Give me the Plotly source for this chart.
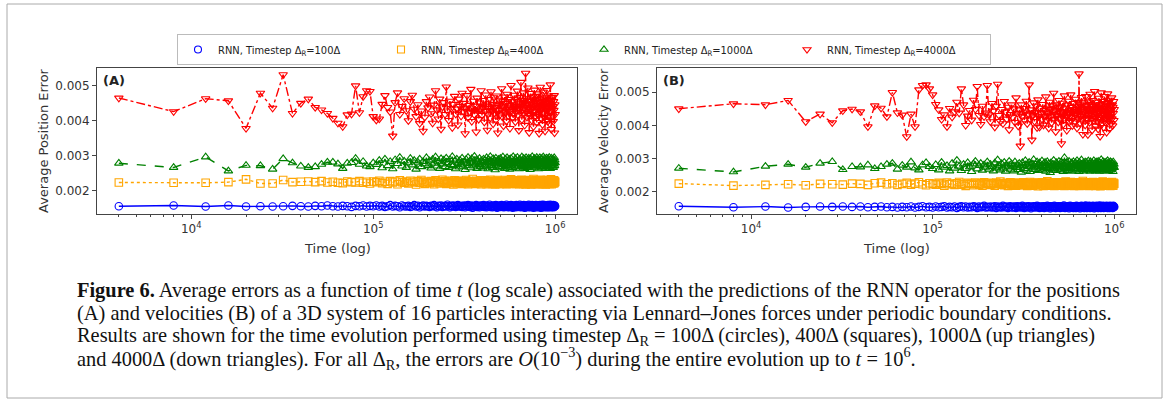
import plotly.graph_objects as go

# ---------------- data ----------------
# time points (t = 4000 * k, k = 1..250)
time_steps = [4000 * k for k in range(1, 251)]

# errors, in units of 1e-5
UNIT = 1e-5

pos_100 = [
    155, 157, 154, 157, 154, 155, 154, 155, 156, 155, 154, 156, 155, 157, 155, 154, 156, 155, 153, 156, 155, 157, 154, 156, 155,
    157, 154, 156, 153, 155, 158, 154, 156, 155, 152, 157, 155, 154, 156, 153, 155, 158, 154, 156, 152, 155, 157, 154, 156, 155,
    153, 156, 155, 158, 154, 152, 156, 155, 157, 153, 155, 156, 154, 159, 155, 152, 156, 154, 157, 155, 153, 156, 158, 154, 155,
    156, 153, 155, 157, 152, 156, 154, 158, 155, 153, 157, 155, 151, 156, 154, 155, 158, 153, 156, 155, 152, 157, 154, 156, 155,
    158, 153, 155, 156, 152, 157, 154, 155, 159, 153, 156, 155, 152, 157, 154, 156, 153, 158, 155, 151, 156, 154, 157, 155, 153,
    156, 158, 154, 155, 152, 157, 155, 153, 156, 159, 154, 155, 152, 157, 156, 153, 155, 158, 154, 156, 151, 155, 157, 153, 156,
    155, 152, 158, 154, 156, 155, 153, 157, 154, 159, 155, 152, 156, 154, 157, 155, 153, 158, 155, 151, 156, 154, 157, 155, 152,
    157, 154, 156, 159, 153, 155, 152, 157, 156, 154, 155, 158, 153, 156, 151, 155, 157, 154, 156, 152, 158, 155, 153, 156, 155,
    153, 157, 155, 152, 156, 158, 154, 155, 151, 157, 154, 156, 159, 153, 155, 156, 152, 158, 155, 154, 156, 153, 157, 155, 152,
    156, 154, 158, 155, 152, 157, 153, 156, 155, 159, 154, 156, 152, 155, 157, 153, 156, 154, 158, 155, 152, 156, 154, 157, 155,
]
pos_400 = [
    223, 222, 222, 224, 232, 220, 220, 230, 224, 225, 226, 224, 227, 223, 225, 222, 221, 226, 224, 223, 227, 222, 225, 220, 226,
    224, 228, 221, 225, 219, 227, 223, 226, 218, 229, 224, 222, 226, 220, 228, 223, 225, 217, 227, 222, 230, 224, 219, 226, 223,
    221, 227, 224, 218, 229, 223, 226, 220, 225, 231, 222, 227, 219, 224, 228, 221, 226, 223, 217, 229, 224, 220, 227, 222, 225,
    228, 219, 224, 226, 221, 230, 223, 218, 227, 224, 220, 226, 233, 222, 225, 219, 228, 223, 226, 221, 224, 229, 218, 225, 222,
    226, 221, 229, 223, 218, 225, 227, 220, 224, 231, 222, 226, 219, 228, 223, 225, 217, 227, 224, 221, 230, 223, 226, 219, 225,
    222, 228, 224, 219, 226, 223, 230, 221, 225, 218, 227, 224, 222, 229, 220, 226, 223, 232, 219, 225, 228, 221, 224, 227, 220,
    225, 219, 227, 223, 229, 221, 224, 226, 218, 228, 222, 225, 231, 220, 226, 223, 219, 227, 224, 222, 229, 217, 225, 223, 228,
    221, 226, 224, 230, 219, 225, 222, 228, 223, 217, 227, 224, 220, 226, 233, 222, 225, 219, 228, 223, 226, 221, 224, 229, 218,
    227, 222, 225, 220, 228, 224, 219, 226, 231, 223, 221, 227, 224, 218, 229, 222, 225, 226, 220, 228, 223, 217, 226, 224, 230,
    223, 228, 220, 225, 222, 229, 224, 219, 227, 221, 226, 232, 223, 218, 225, 228, 222, 226, 220, 224, 229, 221, 227, 223, 225,
]
pos_1000 = [
    278, 266, 296, 256, 272, 271, 261, 291, 279, 270, 266, 268, 275, 281, 281, 276, 263, 278, 280, 292, 275, 283, 270, 268, 279,
    274, 286, 265, 290, 271, 283, 262, 288, 277, 295, 270, 284, 266, 279, 292, 273, 286, 261, 281, 290, 268, 283, 276, 294, 271,
    285, 264, 289, 278, 296, 270, 282, 263, 291, 276, 287, 268, 293, 280, 266, 288, 274, 297, 271, 284, 262, 290, 279, 267, 286,
    275, 293, 269, 281, 260, 289, 277, 295, 272, 284, 265, 291, 279, 270, 298, 276, 287, 263, 282, 274, 292, 268, 285, 279, 264,
    290, 273, 286, 269, 294, 281, 262, 288, 276, 297, 271, 283, 266, 291, 278, 286, 259, 293, 275, 284, 270, 289, 280, 265, 292,
    277, 285, 268, 296, 274, 282, 263, 290, 279, 271, 294, 267, 286, 276, 289, 261, 283, 292, 272, 280, 266, 297, 278, 285, 270,
    291, 264, 284, 275, 295, 269, 281, 287, 262, 290, 277, 283, 271, 296, 274, 286, 268, 292, 279, 263, 288, 276, 294, 270, 284,
    266, 289, 278, 293, 272, 285, 260, 291, 276, 282, 269, 297, 280, 274, 287, 265, 292, 278, 283, 271, 289, 267, 295, 277, 284,
    273, 290, 262, 286, 279, 294, 270, 283, 276, 291, 265, 288, 281, 272, 296, 268, 285, 277, 292, 263, 287, 279, 274, 293, 270,
    286, 275, 291, 267, 284, 278, 295, 271, 282, 263, 289, 276, 293, 269, 285, 280, 272, 290, 266, 283, 277, 294, 271, 287, 279,
]
pos_4000 = [
    465, 426, 463, 457, 378, 479, 436, 532, 421, 450, 462, 438, 431, 421, 407, 393, 383, 417, 419, 500, 423, 469, 486, 484, 412,
    402, 405, 447, 472, 438, 425, 356, 452, 480, 418, 441, 463, 429, 400, 455, 473, 433, 412, 446, 392, 428, 370, 410, 455, 437,
    468, 420, 393, 445, 486, 431, 405, 462, 376, 440, 452, 418, 497, 428, 401, 456, 435, 380, 447, 470, 419, 434, 388, 462, 441,
    413, 479, 427, 450, 363, 436, 472, 409, 444, 425, 490, 398, 431, 456, 417, 442, 368, 465, 428, 404, 451, 433, 486, 415, 438,
    458, 396, 427, 474, 442, 373, 419, 461, 435, 408, 483, 429, 447, 391, 466, 422, 438, 402, 471, 445, 365, 430, 459, 417, 448,
    434, 492, 411, 456, 385, 440, 468, 423, 450, 399, 476, 432, 414, 461, 444, 378, 427, 501, 437, 455, 409, 446, 420, 473, 436,
    397, 462, 441, 428, 485, 416, 449, 372, 435, 467, 424, 510, 442, 403, 458, 431, 480, 419, 452, 387, 445, 536, 428, 463, 410,
    447, 494, 421, 438, 366, 456, 432, 478, 415, 449, 401, 468, 437, 459, 383, 442, 488, 426, 453, 412, 470, 435, 395, 461, 444,
    418, 477, 439, 364, 452, 428, 496, 441, 407, 463, 434, 455, 389, 447, 482, 423, 459, 411, 440, 370, 466, 436, 453, 402, 487,
    429, 445, 398, 471, 438, 416, 460, 392, 449, 503, 427, 443, 375, 458, 434, 467, 414, 441, 398, 455, 430, 472, 365, 446, 418,
]

vel_100 = [
    157, 154, 156, 153, 155, 156, 155, 156, 155, 156, 154, 155, 156, 154, 155, 153, 155, 154, 156, 153, 155, 157, 154, 155, 153,
    156, 154, 155, 157, 153, 155, 154, 156, 152, 155, 157, 154, 156, 153, 155, 154, 157, 155, 152, 156, 154, 155, 158, 153, 155,
    154, 156, 153, 155, 157, 152, 156, 154, 155, 153, 158, 155, 154, 156, 152, 155, 157, 154, 153, 156, 155, 152, 157, 155, 154,
    156, 153, 158, 155, 152, 156, 154, 155, 157, 153, 156, 151, 155, 154, 157, 155, 153, 156, 158, 154, 155, 152, 156, 155, 153,
    155, 157, 152, 156, 154, 155, 158, 153, 156, 154, 151, 157, 155, 153, 156, 154, 158, 155, 152, 156, 155, 153, 157, 154, 156,
    152, 155, 157, 154, 156, 153, 159, 155, 152, 156, 154, 157, 155, 153, 156, 151, 155, 158, 154, 156, 153, 155, 157, 152, 156,
    154, 157, 155, 152, 158, 154, 156, 155, 153, 157, 155, 151, 156, 154, 158, 155, 153, 156, 154, 157, 152, 155, 156, 159, 154,
    155, 152, 157, 154, 156, 153, 158, 155, 152, 156, 154, 157, 155, 153, 156, 158, 154, 155, 151, 157, 155, 153, 156, 154, 158,
    153, 156, 155, 152, 157, 154, 156, 159, 153, 155, 152, 157, 155, 154, 156, 153, 158, 155, 152, 156, 154, 157, 155, 153, 156,
    155, 158, 154, 156, 152, 155, 157, 153, 156, 155, 152, 158, 154, 156, 155, 153, 157, 154, 156, 152, 155, 158, 154, 156, 155,
]
vel_400 = [
    225, 219, 221, 223, 220, 224, 223, 222, 225, 224, 221, 226, 228, 223, 226, 221, 224, 227, 222, 225, 229, 223, 220, 226, 224,
    222, 227, 224, 219, 228, 223, 225, 221, 226, 230, 222, 224, 218, 227, 223, 225, 220, 228, 224, 222, 226, 219, 229, 223, 225,
    227, 221, 224, 226, 219, 228, 223, 225, 231, 222, 226, 220, 224, 227, 218, 225, 229, 223, 221, 226, 224, 219, 228, 222, 225,
    220, 226, 223, 229, 221, 224, 227, 218, 225, 223, 230, 222, 226, 219, 224, 228, 221, 225, 223, 217, 227, 224, 220, 226, 229,
    223, 218, 227, 224, 221, 226, 232, 222, 225, 219, 228, 223, 224, 220, 227, 225, 218, 229, 222, 226, 224, 221, 228, 223, 219,
    226, 224, 229, 220, 225, 222, 227, 218, 224, 231, 223, 226, 221, 228, 224, 219, 225, 222, 230, 224, 220, 227, 223, 226, 218,
    228, 222, 225, 219, 227, 224, 221, 229, 223, 226, 218, 225, 222, 228, 224, 220, 227, 233, 223, 225, 221, 226, 219, 224, 228,
    222, 226, 220, 227, 224, 218, 229, 223, 225, 221, 228, 224, 219, 226, 222, 230, 225, 220, 227, 223, 224, 218, 228, 222, 226,
    224, 219, 227, 223, 229, 221, 225, 222, 228, 217, 226, 224, 220, 227, 223, 231, 222, 225, 219, 228, 224, 221, 226, 223, 229,
    220, 226, 224, 228, 222, 219, 227, 225, 221, 229, 223, 226, 218, 225, 228, 222, 224, 230, 221, 226, 223, 219, 227, 224, 225,
]
vel_1000 = [
    271, 260, 277, 283, 274, 286, 291, 267, 276, 275, 281, 270, 276, 283, 286, 268, 280, 274, 290, 272, 266, 281, 288, 276, 270,
    282, 266, 289, 274, 279, 263, 286, 271, 295, 277, 264, 283, 270, 288, 275, 261, 284, 292, 269, 279, 286, 265, 281, 274, 290,
    268, 283, 276, 263, 287, 272, 296, 278, 266, 285, 271, 289, 262, 280, 275, 292, 268, 284, 277, 263, 290, 273, 281, 267, 286,
    274, 259, 288, 279, 270, 294, 265, 283, 276, 289, 261, 278, 285, 272, 297, 267, 282, 275, 290, 264, 280, 287, 271, 276, 293,
    266, 284, 273, 289, 262, 279, 291, 270, 285, 274, 258, 287, 277, 283, 268, 295, 272, 280, 264, 288, 276, 282, 269, 292, 274,
    281, 266, 290, 275, 284, 261, 278, 303, 270, 286, 273, 289, 264, 282, 276, 292, 268, 280, 274, 287, 262, 285, 277, 291, 270,
    283, 272, 288, 265, 280, 294, 269, 284, 276, 261, 289, 275, 282, 271, 296, 267, 281, 278, 287, 263, 284, 274, 290, 269, 279,
    288, 266, 282, 275, 293, 270, 279, 285, 262, 291, 276, 283, 268, 288, 274, 280, 265, 294, 277, 271, 286, 263, 282, 290, 272,
    278, 284, 267, 292, 273, 281, 262, 288, 276, 285, 270, 297, 274, 266, 283, 279, 291, 268, 285, 275, 262, 289, 278, 284, 271,
    290, 267, 283, 276, 294, 270, 281, 264, 287, 277, 285, 272, 291, 266, 282, 278, 288, 269, 284, 275, 261, 290, 276, 283, 273,
]
vel_4000 = [
    450, 465, 462, 475, 411, 434, 408, 444, 449, 441, 396, 459, 452, 426, 499, 438, 431, 366, 434, 396, 507, 520, 522, 510, 492,
    463, 447, 418, 432, 396, 451, 425, 441, 470, 437, 510, 462, 400, 428, 445, 416, 476, 448, 517, 430, 403, 458, 426, 437, 520,
    432, 411, 466, 443, 395, 458, 524, 430, 412, 448, 405, 472, 441, 419, 455, 387, 433, 462, 425, 450, 409, 483, 436, 398, 447,
    338, 462, 428, 451, 416, 440, 473, 405, 434, 522, 419, 447, 356, 430, 468, 412, 439, 458, 393, 477, 426, 395, 452, 437, 419,
    463, 401, 445, 428, 486, 415, 452, 437, 392, 470, 426, 448, 408, 459, 433, 497, 418, 444, 381, 462, 429, 453, 410, 475, 437,
    421, 456, 345, 441, 467, 403, 432, 489, 417, 450, 426, 385, 462, 438, 473, 409, 446, 428, 492, 415, 454, 399, 437, 466, 424,
    448, 411, 479, 433, 458, 392, 442, 469, 420, 555, 436, 407, 462, 428, 484, 416, 450, 373, 441, 468, 425, 456, 401, 487, 434,
    459, 418, 446, 372, 471, 430, 452, 409, 494, 437, 463, 421, 448, 386, 475, 432, 457, 415, 443, 502, 426, 461, 398, 449, 435,
    470, 412, 455, 389, 439, 482, 424, 451, 367, 463, 430, 498, 418, 447, 405, 472, 436, 458, 394, 444, 487, 421, 453, 410, 466,
    432, 379, 461, 426, 495, 443, 414, 469, 437, 452, 390, 476, 428, 458, 406, 447, 483, 420, 462, 399, 455, 436, 472, 415, 448,
]

series_names = [
    "RNN, Timestep Δ<sub>R</sub>=100Δ",
    "RNN, Timestep Δ<sub>R</sub>=400Δ",
    "RNN, Timestep Δ<sub>R</sub>=1000Δ",
    "RNN, Timestep Δ<sub>R</sub>=4000Δ",
]
panel_labels = ["(A)", "(B)"]
y_titles = ["Average Position Error", "Average Velocity Error"]
x_title = "Time (log)"
x_tick_vals = [1e4, 1e5, 1e6]
x_tick_text = ["10<sup>4</sup>", "10<sup>5</sup>", "10<sup>6</sup>"]
y_tick_vals = [0.002, 0.003, 0.004, 0.005]

caption_lines = [
    "<b>Figure 6.</b> Average errors as a function of time <i>t</i> (log scale) associated with the predictions of the RNN operator for the positions",
    "(A) and velocities (B) of a 3D system of 16 particles interacting via Lennard–Jones forces under periodic boundary conditions.",
    "Results are shown for the time evolution performed using timestep Δ<sub>R</sub> = 100Δ (circles), 400Δ (squares), 1000Δ (up triangles)",
    "and 4000Δ (down triangles). For all Δ<sub>R</sub>, the errors are <i>O</i>(10<sup>−3</sup>) during the entire evolution up to <i>t</i> = 10<sup>6</sup>.",
]

# ---------------- styling ----------------
W, H = 1167, 401
colors = ["#0000ff", "#ffa500", "#008000", "#ff0000"]
symbols = ["circle-open", "square-open", "triangle-up-open", "triangle-down-open"]
dashes = ["solid", "dot", "dash", "dashdot"]

fig = go.Figure()

panels = [
    [pos_100, pos_400, pos_1000, pos_4000],
    [vel_100, vel_400, vel_1000, vel_4000],
]
for p, data in enumerate(panels):
    xa = "x" if p == 0 else "x2"
    ya = "y" if p == 0 else "y2"
    for i, vals in enumerate(data):
        fig.add_trace(go.Scatter(
            x=time_steps, y=[v * UNIT for v in vals], mode="lines+markers",
            xaxis=xa, yaxis=ya, showlegend=False,
            line=dict(color=colors[i], width=1.4, dash=dashes[i]),
            marker=dict(symbol=symbols[i], size=7.5, color=colors[i], line=dict(width=1.1, color=colors[i])),
        ))

# legend-only entries (marker only, as in the reference)
for i in range(4):
    fig.add_trace(go.Scatter(
        x=[None], y=[None], mode="markers", name=series_names[i],
        marker=dict(symbol=symbols[i], size=7, color=colors[i], line=dict(width=1.1, color=colors[i])),
    ))

def px(x):
    return x / W

def py(y):
    return 1 - y / H

axis_common = dict(
    showline=True, linecolor="#444", linewidth=1, mirror=True,
    ticks="outside", ticklen=4, tickcolor="#444", showgrid=False, zeroline=False,
    tickfont=dict(family="DejaVu Sans", size=12, color="#333"), automargin=False,
)
xcommon = dict(axis_common, type="log", range=[3.482, 6.12], tickmode="array",
               tickvals=x_tick_vals, ticktext=x_tick_text,
               minor=dict(ticks="outside", ticklen=2, tickcolor="#444", dtick="D1", showgrid=False))

fig.update_layout(
    width=W, height=H, margin=dict(l=0, r=0, t=0, b=0, autoexpand=False),
    paper_bgcolor="white", plot_bgcolor="white",
    xaxis=dict(xcommon, domain=[px(97), px(577)], anchor="y"),
    xaxis2=dict(xcommon, domain=[px(657), px(1136)], anchor="y2"),
    yaxis=dict(axis_common, domain=[py(214), py(68)], range=[0.001327, 0.005509],
               tickvals=y_tick_vals, tickformat=".3f", anchor="x"),
    yaxis2=dict(axis_common, domain=[py(214), py(68)], range=[0.001336, 0.005724],
                tickvals=y_tick_vals, tickformat=".3f", anchor="x2"),
    legend=dict(orientation="h", x=px(177), y=py(34), xanchor="left", yanchor="top",
                bordercolor="#bbb", borderwidth=1, bgcolor="white",
                font=dict(family="DejaVu Sans Condensed, DejaVu Sans", size=11, color="#222"),
                entrywidth=158, entrywidthmode="pixels", tracegroupgap=0),
    showlegend=True,
)

annotations = []
# panel labels
for lab, x0 in zip(panel_labels, [101, 661]):
    annotations.append(dict(text="<b>" + lab + "</b>", x=px(x0), y=py(80), xref="paper", yref="paper",
                            xanchor="left", yanchor="middle", showarrow=False,
                            font=dict(family="DejaVu Sans", size=13, color="#222")))
# axis titles
for t, xc in zip(y_titles, [43, 603]):
    annotations.append(dict(text=t, x=px(xc), y=py(141), xref="paper", yref="paper",
                            xanchor="center", yanchor="middle", textangle=-90, showarrow=False,
                            font=dict(family="DejaVu Sans", size=13, color="#333")))
for xc in [337, 896.5]:
    annotations.append(dict(text=x_title, x=px(xc), y=py(248), xref="paper", yref="paper",
                            xanchor="center", yanchor="middle", showarrow=False,
                            font=dict(family="DejaVu Sans", size=13, color="#333")))
# caption
for line, yc in zip(caption_lines, [290, 313, 336, 358]):
    annotations.append(dict(text=line, x=px(75), y=py(yc), xref="paper", yref="paper",
                            xanchor="left", yanchor="middle", showarrow=False,
                            font=dict(family="Liberation Serif", size=20.4, color="#111")))
fig.update_layout(annotations=annotations)

# outer frame
fig.add_shape(type="rect", xref="paper", yref="paper", x0=px(7), x1=px(1162), y0=py(398), y1=py(4),
              line=dict(color="#aaa", width=1), fillcolor="rgba(0,0,0,0)", layer="below")

fig.write_html("out.html")
